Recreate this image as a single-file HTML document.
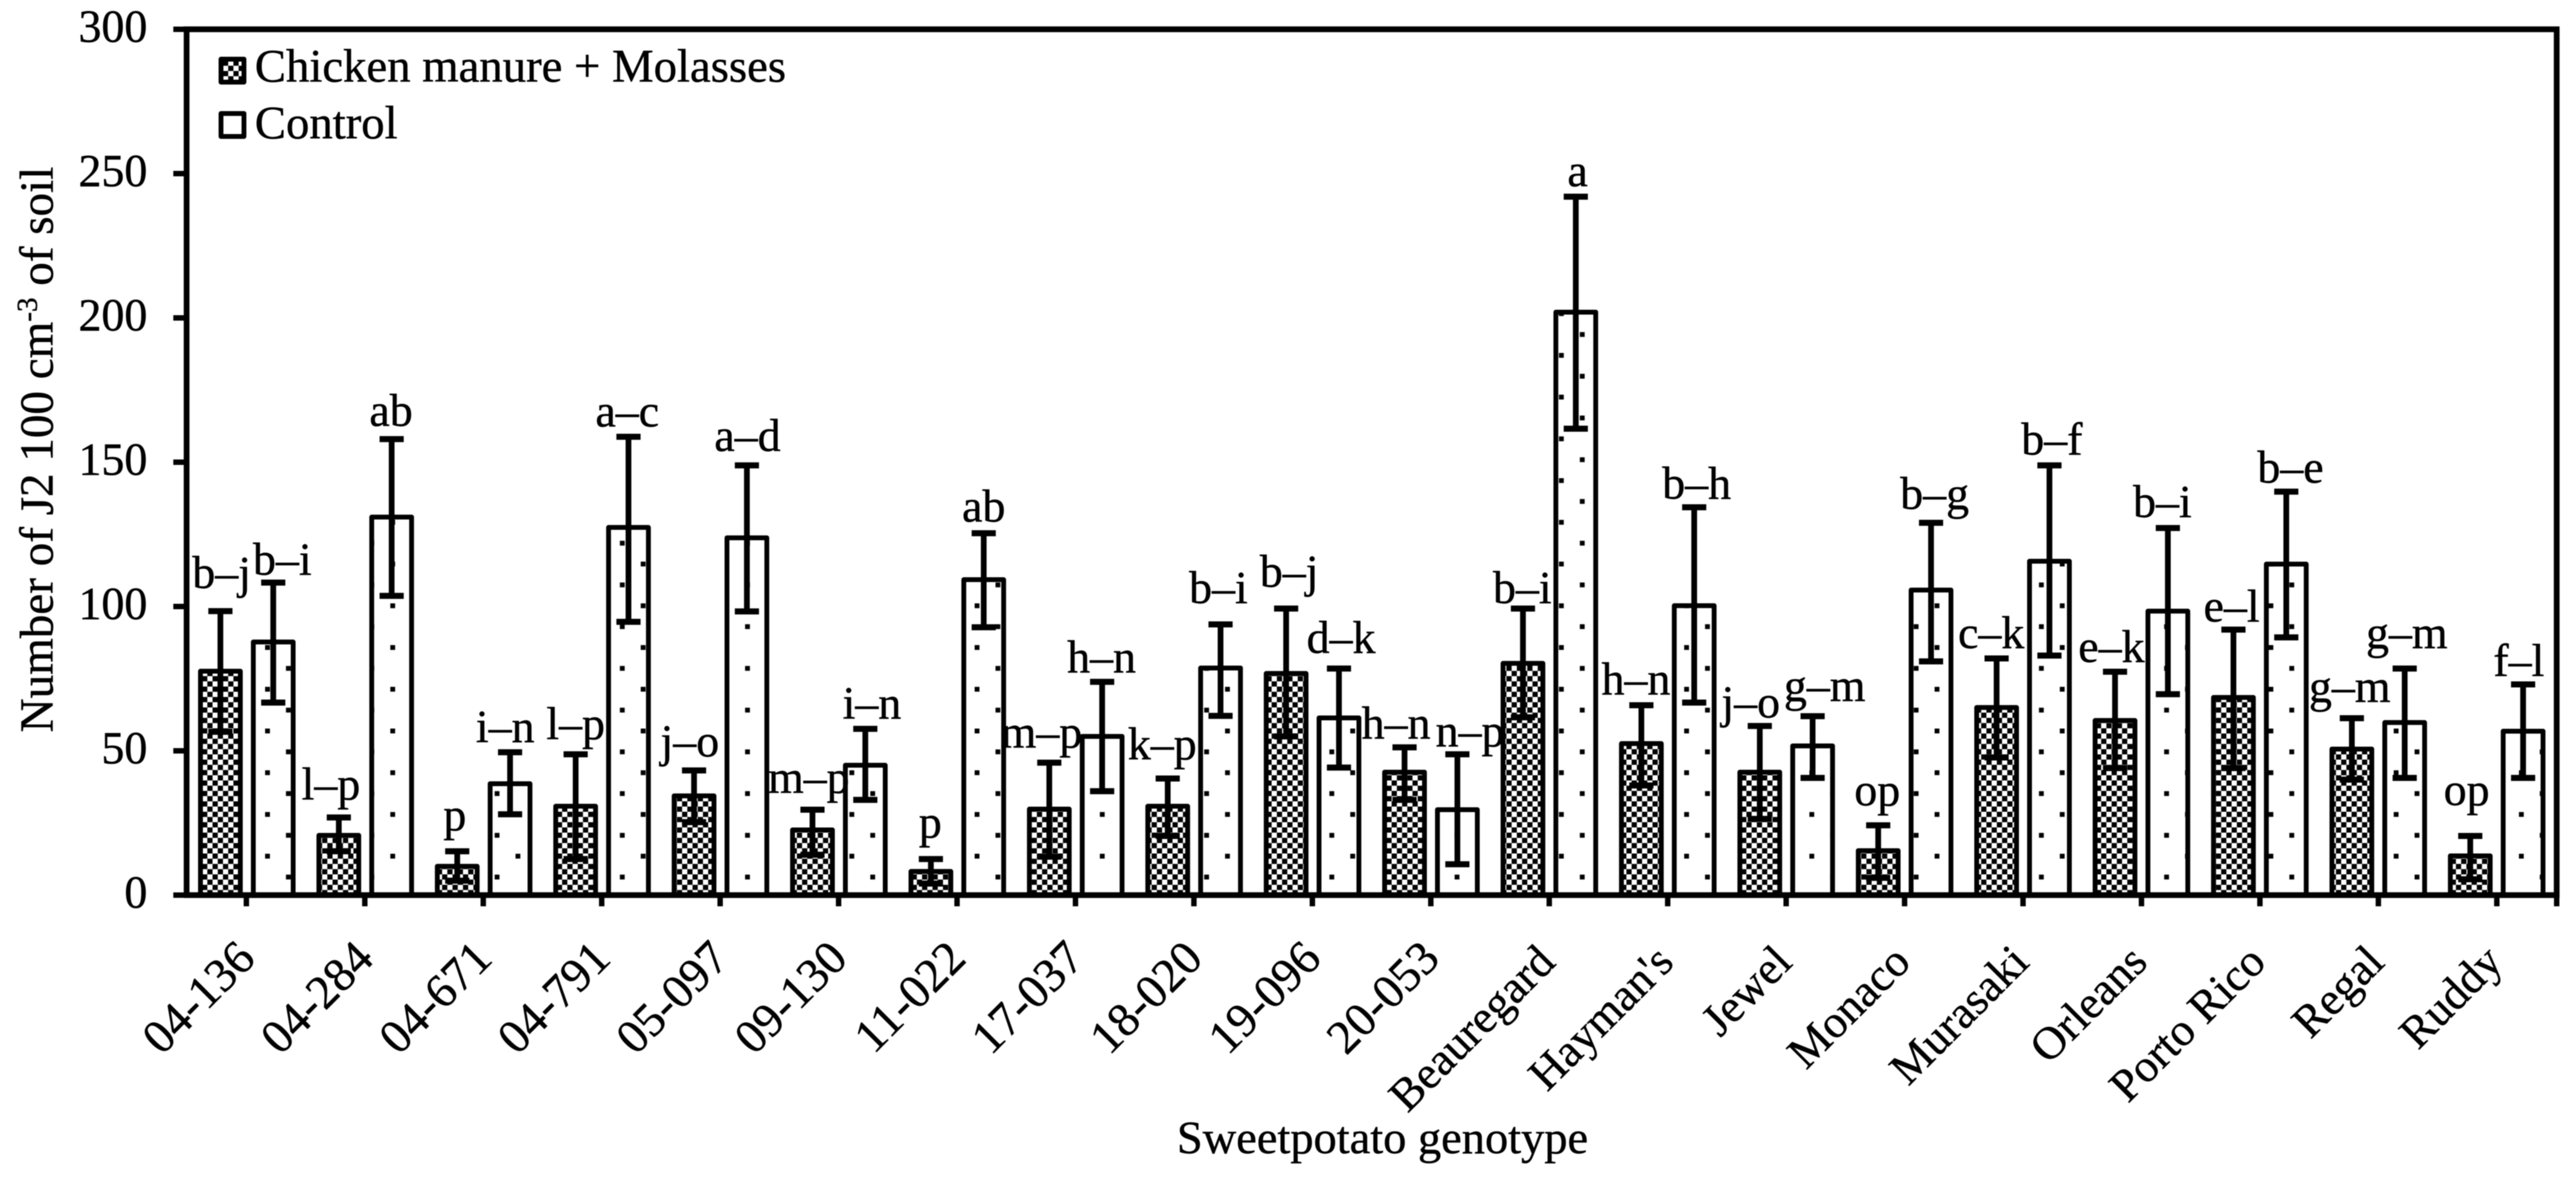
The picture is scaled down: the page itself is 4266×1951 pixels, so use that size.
<!DOCTYPE html>
<html lang="en">
<head>
<meta charset="utf-8">
<title>Number of J2 by sweetpotato genotype</title>
<style>
html,body{margin:0;padding:0;background:#fff;width:4266px;height:1951px;overflow:hidden}
svg{display:block;filter:blur(0.8px)}
text{font-family:"Liberation Serif",serif;fill:#000;font-size:76px;stroke:#000;stroke-width:0.7px}
</style>
</head>
<body>
<svg id="chart" xmlns="http://www.w3.org/2000/svg" width="4266" height="1951" viewBox="0 0 4266 1951">
  <defs>
    <pattern id="checker" patternUnits="userSpaceOnUse" x="334.7" y="1379" width="17.28" height="17.28">
      <rect width="17.28" height="17.28" fill="#fff"/>
      <rect x="0" y="0" width="8.64" height="8.64" fill="#000"/>
      <rect x="8.64" y="8.64" width="8.64" height="8.64" fill="#000"/>
    </pattern>
    <pattern id="dots" patternUnits="userSpaceOnUse" x="439" y="1414" width="69.12" height="69.12">
      <rect width="69.12" height="69.12" fill="#fff"/>
      <rect x="0" y="0" width="8" height="8" fill="#000"/>
      <rect x="34.56" y="34.56" width="8" height="8" fill="#000"/>
    </pattern>
  </defs>
  <g id="marks"></g>
  <g id="axes"></g>
  <g>
    <rect x="366" y="98" width="38" height="38" fill="url(#checker)" stroke="#000" stroke-width="8" stroke-linejoin="round"/>
    <text x="422" y="135" style="font-size:77.4px">Chicken manure + Molasses</text>
    <rect x="366" y="188" width="38" height="38" fill="#fff" stroke="#000" stroke-width="8" stroke-linejoin="round"/>
    <text x="422" y="229" style="font-size:77.4px">Control</text>
  </g>
  <text transform="translate(87,1213) rotate(-90)" style="font-size:78px">Number of J2 100 cm<tspan dy="-26" style="font-size:48px">-3</tspan><tspan dy="26"> of soil</tspan></text>
  <text x="1949" y="1910" textLength="681" lengthAdjust="spacingAndGlyphs">Sweetpotato genotype</text>
</svg>
<script>
// ---- chart data ----
const genotypes = ["04-136","04-284","04-671","04-791","05-097","09-130","11-022","17-037","18-020","19-096","20-053","Beauregard","Hayman's","Jewel","Monaco","Murasaki","Orleans","Porto Rico","Regal","Ruddy"];
const yTickLabels = [0,50,100,150,200,250,300];
const manureValues = [77.6,20.7,10,30.8,34.4,22.6,8.2,29.8,30.8,76.8,42.6,80.3,52.5,42.6,15.4,65,60.5,68.5,50.6,13.6];
const manureUpper  = [98.4,26.9,15.2,48.8,43.2,29.6,12.5,45.9,40.4,99.3,51.2,99.3,65.8,58.6,24.2,82,77.4,92,61.3,20.5];
const manureLower  = [56.6,15.2,5,12.5,25.3,14,4,13.3,20.5,55,33,61.6,38,26.4,6,47.7,44,44,40,5.5];
const controlValues = [87.7,131,38.6,127.4,123.8,45,109.3,55,78.7,61.4,29.6,202,100.3,51.7,105.7,115.7,98.4,114.7,59.8,56.8];
const controlUpper  = [108.3,158,49.5,158.8,148.9,57.6,125.4,73.9,93.8,78.5,48.8,242,134.4,62,129,148.9,127.2,139.8,78.5,73];
const controlLower  = [66.7,103.7,28,94.7,98.3,33,92.8,36,62.1,44.2,10.7,161.6,66.7,40.6,81,83,69.6,89.3,40.6,40.6];
const manureLetters  = ["b–j","l–p","p","l–p","j–o","m–p","p","m–p","k–p","b–j","h–n","b–i","h–n","j–o","op","c–k","e–k","e–l","g–m","op"];
const controlLetters = ["b–i","ab","i–n","a–c","a–d","i–n","ab","h–n","b–i","d–k","n–p","a","b–h","g–m","b–g","b–f","b–i","b–e","g–m","f–l"];

// ---- layout only: how each significance letter is nudged off its error cap (px) ----
const layoutManureDx  = [2,-13,-4,0,-7,-6,-1,-13,-9,5,-14,-1,-9,-15,-1.5,-9,-6,-3,-3.5,-6];
const layoutManureGap = [38,30,35,25,23,28,36,25,32,36,15,9,18,14,33,17,16,13,27,51];
const layoutControlDx  = [15,-1,-8,-2,1,11,0,-1,-3.5,3.5,21,3,4,20,6,4,-9,7,3.5,-7];
const layoutControlGap = [13,22,17,17,24,17,19,16,35,26,13,17,14,25,23,18,18,15,34,14];

// ---- axis functions ----
const Y0 = 1482.5, PX_PER_UNIT = 4.78;
const yScale = v => Y0 - v * PX_PER_UNIT;
const manureX = i => 365 + 196.1 * i;
const controlX = i => 452.5 + 196.1 * i;
const tickX = i => 408 + 196.15 * i;
const AXIS_LEFT = 309, AXIS_RIGHT = 4234;

const NS = "http://www.w3.org/2000/svg";
const marks = document.getElementById("marks");
const axes = document.getElementById("axes");
function make(parent, tag, attrs, txt) {
  const el = document.createElementNS(NS, tag);
  for (const k in attrs) el.setAttribute(k, attrs[k]);
  if (txt !== undefined) el.textContent = txt;
  parent.appendChild(el);
  return el;
}
function slug(s) { return String(s).toLowerCase().replace(/[^a-z0-9]+/g, "-"); }

function drawBar(i, x, val, fill, series) {
  const top = yScale(val);
  const bar = make(marks, "rect", {x: x - 33, y: top, width: 66, height: Y0 - top, fill: fill, stroke: "#000", "stroke-width": 8, "stroke-linejoin": "round"});
  
  
}
function drawError(i, x, up, low, series) {
  const g = make(marks, "g", {stroke: "#000", fill: "none"});
  
  
  make(g, "line", {x1: x, x2: x, y1: yScale(up), y2: yScale(low), "stroke-width": 9.5});
  make(g, "line", {x1: x - 20, x2: x + 20, y1: yScale(up), y2: yScale(up), "stroke-width": 10});
  make(g, "line", {x1: x - 20, x2: x + 20, y1: yScale(low), y2: yScale(low), "stroke-width": 10});
}
function drawLetter(i, x, up, letter, dx, gap, series) {
  const t = make(marks, "text", {x: x + dx, y: yScale(up) - gap, "text-anchor": "middle"}, letter);
  
  
}

genotypes.forEach((g, i) => {
  drawBar(i, manureX(i), manureValues[i], "url(#checker)", "manure");
  drawBar(i, controlX(i), controlValues[i], "url(#dots)", "control");
});
genotypes.forEach((g, i) => {
  drawError(i, manureX(i), manureUpper[i], manureLower[i], "manure");
  drawError(i, controlX(i), controlUpper[i], controlLower[i], "control");
});
genotypes.forEach((g, i) => {
  drawLetter(i, manureX(i), manureUpper[i], manureLetters[i], layoutManureDx[i], layoutManureGap[i], "manure");
  drawLetter(i, controlX(i), controlUpper[i], controlLetters[i], layoutControlDx[i], layoutControlGap[i], "control");
});

// frame
const frame = make(axes, "path", {d: "M" + AXIS_LEFT + " " + yScale(300) + "H" + AXIS_RIGHT + "V" + Y0 + "H" + AXIS_LEFT + "Z", fill: "none", stroke: "#000", "stroke-width": 9.5});



// y axis
yTickLabels.forEach(v => {
  const tick = make(axes, "line", {x1: 287, x2: AXIS_LEFT, y1: yScale(v), y2: yScale(v), stroke: "#000", "stroke-width": 9});
  
  
  const lab = make(axes, "text", {x: 244, y: yScale(v) + 21, "text-anchor": "end"}, v);
  
  
});

// x axis
genotypes.forEach((g, i) => {
  const x = tickX(i);
  const tick = make(axes, "line", {x1: x, x2: x, y1: Y0, y2: 1501, stroke: "#000", "stroke-width": 9});
  
  
  const numeric = /^[0-9]/.test(g);
  const ax = x + (numeric ? 18 : 13);
  const ay = numeric ? 1591 : 1597;
  const lab = make(axes, "text", {x: ax, y: ay, "text-anchor": "end", transform: "rotate(-45 " + ax + " " + ay + ")"}, g);
  lab.style.fontSize = numeric ? "79px" : "76px";
  
  
});
const endTick = make(axes, "line", {x1: AXIS_RIGHT, x2: AXIS_RIGHT, y1: Y0, y2: 1501, stroke: "#000", "stroke-width": 9});


</script>
</body>
</html>
